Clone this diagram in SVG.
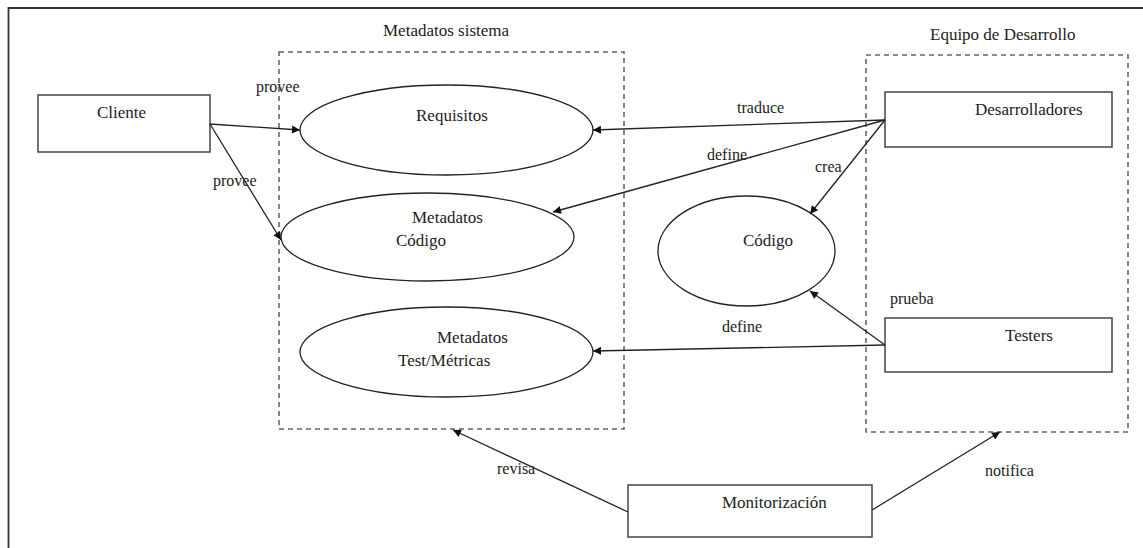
<svg xmlns="http://www.w3.org/2000/svg" width="1143" height="548" viewBox="0 0 1143 548">
  <style>
    text { font-family: "Liberation Serif", "Times New Roman", "DejaVu Serif", serif; font-size: 17px; fill: #222; }
    .box { fill: #fff; stroke: #444; stroke-width: 1.5; }
    .oval { fill: #fff; stroke: #222; stroke-width: 1.3; }
    .group { fill: none; stroke: #666; stroke-width: 1.6; stroke-dasharray: 5 4; }
    .edge { fill: none; stroke: #222; stroke-width: 1.3; marker-end: url(#arrow); }
    .lbl { font-size: 16px; }
  </style>
  <defs>
    <marker id="arrow" viewBox="0 0 10 10" refX="10" refY="5" markerWidth="10" markerHeight="8" markerUnits="userSpaceOnUse" orient="auto">
      <path d="M0,0 L10,5 L0,10 Z" fill="#111"/>
    </marker>
  </defs>

  <rect width="1143" height="548" fill="#fff"/>
  <!-- page frame -->
  <path d="M1143,8 H8.5 V548" fill="none" stroke="#333" stroke-width="1.8"/>

  <!-- system metadata group -->
  <g id="metadatos-sistema">
    <rect class="group" x="279" y="52" width="345" height="377"/>
    <text x="383" y="36">Metadatos sistema</text>
  </g>

  <!-- development team group -->
  <g id="equipo-desarrollo">
    <rect class="group" x="866" y="55" width="262" height="377"/>
    <text x="930" y="40">Equipo de Desarrollo</text>
  </g>

  <g id="cliente">
    <rect class="box" x="38" y="95" width="172" height="57"/>
    <text x="97" y="118">Cliente</text>
  </g>

  <g id="requisitos">
    <ellipse class="oval" cx="446.5" cy="130" rx="146.5" ry="45"/>
    <text x="416" y="121">Requisitos</text>
  </g>

  <g id="metadatos-codigo">
    <ellipse class="oval" cx="427.5" cy="237" rx="146.5" ry="44"/>
    <text x="412" y="223">Metadatos</text>
    <text x="396" y="246">Código</text>
  </g>

  <g id="metadatos-test">
    <ellipse class="oval" cx="446.5" cy="352" rx="146.5" ry="45"/>
    <text x="437" y="343">Metadatos</text>
    <text x="398" y="366">Test/Métricas</text>
  </g>

  <g id="codigo">
    <ellipse class="oval" cx="746.5" cy="251" rx="88.5" ry="55"/>
    <text x="743" y="246">Código</text>
  </g>

  <g id="desarrolladores">
    <rect class="box" x="885" y="92" width="227" height="55"/>
    <text x="975" y="115">Desarrolladores</text>
  </g>

  <g id="testers">
    <rect class="box" x="885" y="318" width="227" height="54"/>
    <text x="1005" y="341">Testers</text>
  </g>

  <g id="monitorizacion">
    <rect class="box" x="628" y="485" width="244" height="52"/>
    <text x="722" y="508">Monitorización</text>
  </g>

  <g id="connectors">
    <path class="edge" d="M210,124 L300,130"/>
    <path class="edge" d="M210,124 L281,240"/>
    <path class="edge" d="M885,120 L593,130"/>
    <path class="edge" d="M885,120 L553,212"/>
    <path class="edge" d="M885,120 L810,214"/>
    <path class="edge" d="M885,345 L810,291"/>
    <path class="edge" d="M885,345 L593,351"/>
    <path class="edge" d="M628,512 L453,430"/>
    <path class="edge" d="M872,510 L1000,432"/>

    <text class="lbl" x="256" y="92">provee</text>
    <text class="lbl" x="213" y="186">provee</text>
    <text class="lbl" x="737" y="113">traduce</text>
    <text class="lbl" x="707" y="160">define</text>
    <text class="lbl" x="815" y="172">crea</text>
    <text class="lbl" x="890" y="304">prueba</text>
    <text class="lbl" x="722" y="332">define</text>
    <text class="lbl" x="497" y="474">revisa</text>
    <text class="lbl" x="985" y="476">notifica</text>
  </g>
</svg>
